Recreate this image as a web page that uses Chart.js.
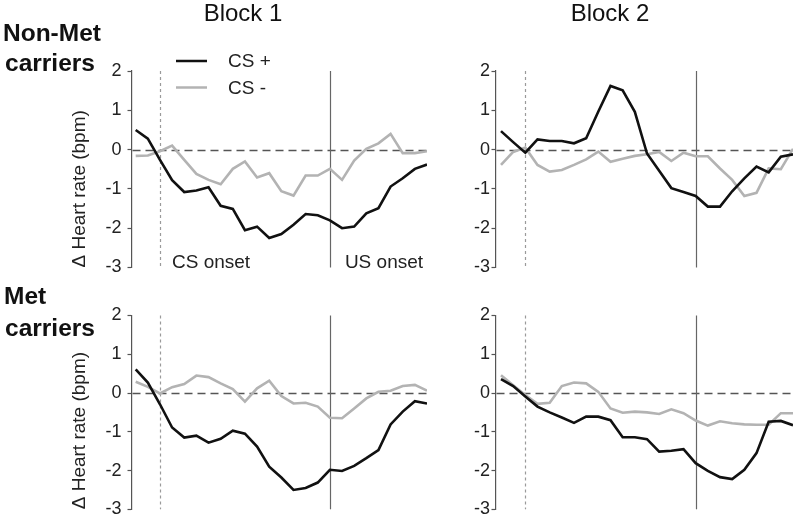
<!DOCTYPE html>
<html><head><meta charset="utf-8">
<script src="https://cdn.jsdelivr.net/npm/chart.js@4.4.0/dist/chart.umd.min.js"></script>
<style>
html,body{margin:0;padding:0;background:#fff;}
#wrap{position:relative;width:800px;height:518px;overflow:hidden;font-family:"Liberation Sans",Arial,sans-serif;}
canvas{position:absolute;left:0;top:0;}
.t{position:absolute;white-space:nowrap;line-height:1;color:#111;}
.b{font-weight:bold;font-size:24.5px;}
</style></head><body>
<div id="wrap">
<canvas id="c1" width="800" height="518"></canvas>
<canvas id="c2" width="800" height="518"></canvas>
<canvas id="c3" width="800" height="518"></canvas>
<canvas id="c4" width="800" height="518"></canvas>
<div class="t" style="left:243px;top:1.4px;font-size:24px;transform:translateX(-50%)">Block 1</div>
<div class="t" style="left:610px;top:1.4px;font-size:24px;transform:translateX(-50%)">Block 2</div>
<div class="t b" style="left:3px;top:21px;">Non-Met</div>
<div class="t b" style="left:5px;top:51px;">carriers</div>
<div class="t b" style="left:4px;top:284.3px;">Met</div>
<div class="t b" style="left:5px;top:316px;">carriers</div>
</div>
<script>
// ---- data ----
const time = [-1,-0.5,0,0.5,1,1.5,2,2.5,3,3.5,4,4.5,5,5.5,6,6.5,7,7.5,8,8.5,9,9.5,10,10.5,11];
const CS_ONSET = 0;
const US_ONSET = 7;
const yTicks = [-3,-2,-1,0,1,2];
const seriesLabels = ['CS +','CS -'];

const nonMetBlock1Plus  = [0.50,0.28,-0.26,-0.78,-1.08,-1.04,-0.96,-1.43,-1.51,-2.05,-1.96,-2.25,-2.15,-1.91,-1.64,-1.67,-1.80,-2.00,-1.96,-1.62,-1.49,-0.94,-0.73,-0.49,-0.38];
const nonMetBlock1Minus = [-0.16,-0.15,-0.04,0.10,-0.26,-0.62,-0.77,-0.88,-0.49,-0.30,-0.71,-0.60,-1.06,-1.17,-0.66,-0.66,-0.49,-0.77,-0.28,0.02,0.16,0.40,-0.09,-0.09,-0.04];
const nonMetBlock2Plus  = [0.47,0.19,-0.08,0.26,0.22,0.22,0.16,0.29,0.97,1.62,1.51,0.96,-0.10,-0.54,-0.98,-1.08,-1.18,-1.45,-1.45,-1.06,-0.73,-0.43,-0.58,-0.18,-0.12];
const nonMetBlock2Minus = [-0.39,-0.06,0.05,-0.39,-0.56,-0.52,-0.39,-0.25,-0.05,-0.31,-0.23,-0.16,-0.12,-0.06,-0.29,-0.08,-0.17,-0.17,-0.48,-0.77,-1.18,-1.10,-0.48,-0.50,0.02];
const metBlock1Plus     = [0.61,0.27,-0.29,-0.89,-1.15,-1.10,-1.28,-1.18,-0.97,-1.05,-1.38,-1.90,-2.18,-2.50,-2.45,-2.31,-1.98,-2.01,-1.88,-1.68,-1.47,-0.81,-0.48,-0.21,-0.27];
const metBlock1Minus    = [0.29,0.16,-0.01,0.15,0.23,0.45,0.41,0.25,0.10,-0.22,0.12,0.32,-0.08,-0.27,-0.25,-0.35,-0.64,-0.65,-0.40,-0.14,0.03,0.06,0.18,0.21,0.06];
const metBlock2Plus     = [0.36,0.18,-0.09,-0.35,-0.50,-0.63,-0.77,-0.61,-0.61,-0.70,-1.14,-1.14,-1.19,-1.51,-1.49,-1.45,-1.81,-2.01,-2.17,-2.22,-1.98,-1.55,-0.74,-0.72,-0.83];
const metBlock2Minus    = [0.46,0.20,-0.05,-0.28,-0.25,0.18,0.27,0.25,0.03,-0.40,-0.51,-0.48,-0.50,-0.54,-0.42,-0.52,-0.71,-0.84,-0.73,-0.78,-0.81,-0.82,-0.82,-0.52,-0.52];

// ---- style ----
const FONT = '"Liberation Sans", Arial, sans-serif';
const PLUS_COLOR = '#111111';
const MINUS_COLOR = '#b3b3b3';

const refPlugin = {
  id: 'refLines',
  beforeDatasetsDraw(chart, args, opts) {
    const {ctx, chartArea: a, scales: {x, y}} = chart;
    ctx.save();
    const y0 = Math.round(y.getPixelForValue(0)) + 0.5;
    ctx.strokeStyle = '#555'; ctx.lineWidth = 1.3; ctx.setLineDash([8, 5]);
    ctx.beginPath(); ctx.moveTo(a.left + 1, y0); ctx.lineTo(a.right, y0); ctx.stroke();
    const xc = Math.round(x.getPixelForValue(CS_ONSET)) + 0.5;
    ctx.strokeStyle = '#9a9a9a'; ctx.lineWidth = 1.2; ctx.setLineDash([3, 3]);
    ctx.beginPath(); ctx.moveTo(xc, a.top); ctx.lineTo(xc, a.bottom); ctx.stroke();
    const xu = Math.round(x.getPixelForValue(US_ONSET)) + 0.5;
    ctx.strokeStyle = '#666'; ctx.lineWidth = 1.2; ctx.setLineDash([]);
    ctx.beginPath(); ctx.moveTo(xu, a.top); ctx.lineTo(xu, a.bottom); ctx.stroke();
    ctx.restore();
  },
  afterDraw(chart, args, opts) {
    if (!opts.annotate) return;
    const {ctx, chartArea: a, scales: {x}} = chart;
    ctx.save();
    ctx.font = '19px ' + FONT;
    ctx.fillStyle = '#222';
    ctx.textBaseline = 'alphabetic';
    ctx.textAlign = 'left';
    ctx.fillText('CS onset', x.getPixelForValue(CS_ONSET) + 12, a.bottom);
    ctx.fillText('US onset', x.getPixelForValue(US_ONSET) + 15, a.bottom);
    // legend
    const ds = chart.data.datasets;
    const rows = [a.top - 10, a.top + 16.5];
    ds.forEach((d, i) => {
      ctx.strokeStyle = d.borderColor; ctx.lineWidth = 2.5;
      ctx.beginPath(); ctx.moveTo(176, rows[i]); ctx.lineTo(207, rows[i]); ctx.stroke();
      ctx.textBaseline = 'middle';
      ctx.fillText(d.label, 228, rows[i] + 1);
    });
    ctx.restore();
  }
};

function pts(vals) { return time.map((t, i) => ({x: t, y: vals[i]})); }

function makePanel(id, p) {
  return new Chart(document.getElementById(id), {
    type: 'line',
    data: { datasets: [
      {label: seriesLabels[0], data: pts(p.plus), borderColor: PLUS_COLOR, borderWidth: 2.6, pointRadius: 0, tension: 0, fill: false},
      {label: seriesLabels[1], data: pts(p.minus), borderColor: MINUS_COLOR, borderWidth: 2.6, pointRadius: 0, tension: 0, fill: false}
    ]},
    options: {
      responsive: false, animation: false, devicePixelRatio: 1,
      events: [],
      layout: {padding: {left: p.padLeft, top: p.top, right: 800 - p.right, bottom: 518 - p.bottom}},
      plugins: {legend: {display: false}, tooltip: {enabled: false}, refLines: {annotate: p.annotate}},
      scales: {
        x: {type: 'linear', min: p.xmin, max: 11, display: false},
        y: {
          position: 'left', min: -3, max: 2,
          afterBuildTicks: (s) => { s.ticks = yTicks.map(v => ({value: v})); },
          ticks: {font: {size: 18, family: FONT}, color: '#222', padding: p.tickPad},
          grid: {drawOnChartArea: false, drawTicks: true, tickLength: 4, tickColor: '#555', tickWidth: 1.2},
          border: {display: true, color: '#555', width: 1.2},
          title: {display: p.showTitle, text: 'Δ Heart rate (bpm)', align: 'start', font: {size: 19, family: FONT}, color: '#222', padding: 0},
          afterFit: (s) => { s.width = p.axisW; s.paddingTop = 0; s.paddingBottom = 0; }
        }
      }
    },
    plugins: [refPlugin]
  });
}

Chart.defaults.font.family = FONT;

const leftAxisX = 131.5, rightAxisX = 495.5;
makePanel('c1', {plus: nonMetBlock1Plus, minus: nonMetBlock1Minus, padLeft: 68.6, axisW: leftAxisX - 68.6, top: 71, bottom: 267.5, right: 427, xmin: -1.173, tickPad: 6, showTitle: true, annotate: true});
makePanel('c2', {plus: nonMetBlock2Plus, minus: nonMetBlock2Minus, padLeft: rightAxisX - 40, axisW: 40, top: 71, bottom: 267.5, right: 793, xmin: -1.226, tickPad: 1.5, showTitle: false, annotate: false});
makePanel('c3', {plus: metBlock1Plus, minus: metBlock1Minus, padLeft: 68.6, axisW: leftAxisX - 68.6, top: 315.5, bottom: 509.3, right: 427, xmin: -1.173, tickPad: 6, showTitle: true, annotate: false});
makePanel('c4', {plus: metBlock2Plus, minus: metBlock2Minus, padLeft: rightAxisX - 40, axisW: 40, top: 315.5, bottom: 509.3, right: 793, xmin: -1.226, tickPad: 1.5, showTitle: false, annotate: false});
</script>
</body></html>
